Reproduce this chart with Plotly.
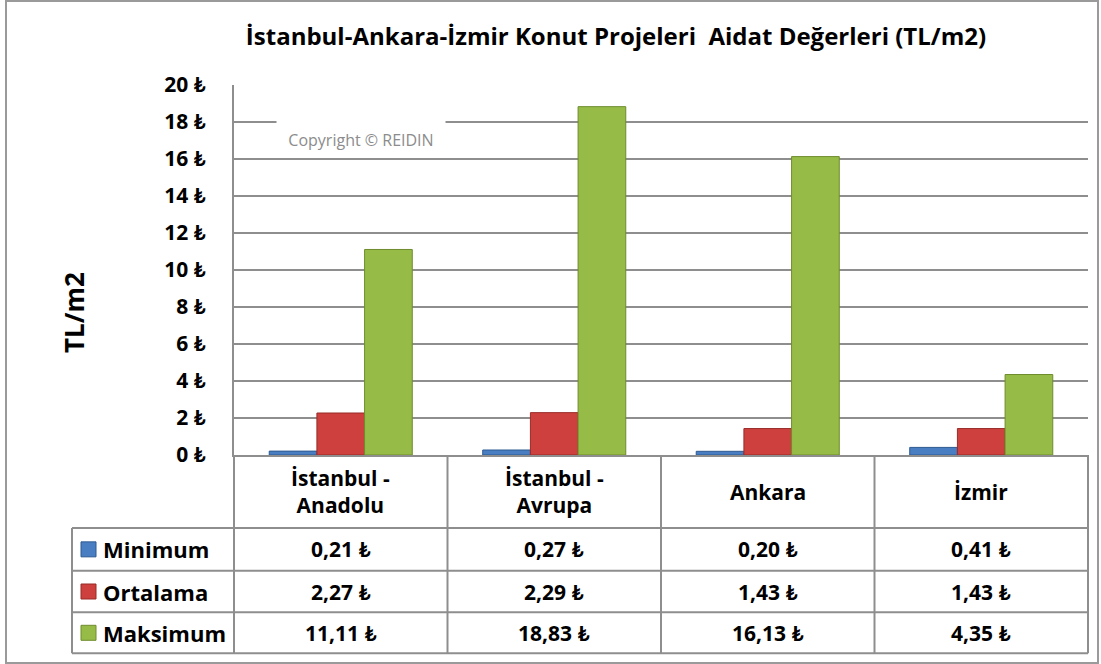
import plotly.graph_objects as go

# ---------------- data ----------------
categories = ["İstanbul - Anadolu", "İstanbul - Avrupa", "Ankara", "İzmir"]
header_labels = ["İstanbul -<br>Anadolu", "İstanbul -<br>Avrupa", "Ankara", "İzmir"]
series_names = ["Minimum", "Ortalama", "Maksimum"]
minimum = [0.21, 0.27, 0.20, 0.41]
ortalama = [2.27, 2.29, 1.43, 1.43]
maksimum = [11.11, 18.83, 16.13, 4.35]
y_ticks = [0, 2, 4, 6, 8, 10, 12, 14, 16, 18, 20]
y_ticktext = [f"{v} ₺" for v in y_ticks]
title_text = "İstanbul-Ankara-İzmir Konut Projeleri  Aidat Değerleri (TL/m2)"
y_title = "TL/m2"
copyright_text = "Copyright © REIDIN"

series_values = [minimum, ortalama, maksimum]
fill_colors = ["#4a7ec2", "#cd403d", "#96bc47"]
line_colors = ["#2d5b92", "#992b29", "#6e8c2d"]

FONT = "'Open Sans', Lato, 'DejaVu Sans', sans-serif"

# ---------------- geometry (pixels) ----------------
W, H = 1101, 664
L, R, T, B = 234, 1088, 85, 455


def px(x):
    return (x - L) / (R - L)


def py(y):
    return (B - y) / (B - T)


def fmt(v):
    return f"{v:.2f}".replace(".", ",") + " ₺"


fig = go.Figure()
for name, vals, fc, lc in zip(series_names, series_values, fill_colors, line_colors):
    fig.add_trace(go.Bar(
        x=categories, y=vals, name=name,
        marker=dict(color=fc, line=dict(color=lc, width=1)),
        showlegend=False,
    ))

GRID = "#8e8e8e"
shapes = []
table_left = 72
row_lines = [528, 570.7, 612.3, 653.3]
for yy in row_lines:
    shapes.append(dict(type="line", xref="paper", yref="paper",
                       x0=px(table_left), x1=1, y0=py(yy), y1=py(yy),
                       line=dict(color=GRID, width=2)))
n = len(categories)
for k in range(n + 1):
    shapes.append(dict(type="line", xref="paper", yref="paper",
                       x0=k / n, x1=k / n, y0=py(B), y1=py(row_lines[-1]),
                       line=dict(color=GRID, width=2)))
shapes.append(dict(type="line", xref="paper", yref="paper",
                   x0=px(table_left), x1=px(table_left),
                   y0=py(row_lines[0]), y1=py(row_lines[-1]),
                   line=dict(color=GRID, width=2)))
row_centers = [(row_lines[i] + row_lines[i + 1]) / 2 for i in range(3)]
for rc, fc, lc in zip(row_centers, fill_colors, line_colors):
    shapes.append(dict(type="rect", xref="paper", yref="paper",
                       x0=px(81), x1=px(96), y0=py(rc - 7.5), y1=py(rc + 7.5),
                       fillcolor=fc, line=dict(color=lc, width=1)))
shapes.append(dict(type="rect", xref="paper", yref="paper",
                   x0=px(6), x1=px(1098), y0=py(1), y1=py(663),
                   line=dict(color="#9a9a9a", width=2), fillcolor="rgba(0,0,0,0)"))

annotations = []
TABLE_FONT = dict(family=FONT, size=21, color="black", weight="bold")
for k, lab in enumerate(header_labels):
    annotations.append(dict(text=lab, xref="paper", yref="paper",
                            x=(k + 0.5) / n, y=py(491.5), showarrow=False,
                            xanchor="center", yanchor="middle", font=TABLE_FONT))
for rc, name, vals in zip(row_centers, series_names, series_values):
    annotations.append(dict(text=name, xref="paper", yref="paper",
                            x=px(101), y=py(rc), showarrow=False,
                            xanchor="left", yanchor="middle",
                            font=dict(family=FONT, size=22, color="black", weight="bold")))
    for k, v in enumerate(vals):
        annotations.append(dict(text=fmt(v), xref="paper", yref="paper",
                                x=(k + 0.5) / n, y=py(rc), showarrow=False,
                                xanchor="center", yanchor="middle", font=TABLE_FONT))
annotations.append(dict(text=y_title, xref="paper", yref="paper",
                        x=px(74), y=py(313), showarrow=False, textangle=-90,
                        xanchor="center", yanchor="middle",
                        font=dict(family=FONT, size=26, color="black", weight="bold")))
annotations.append(dict(text=copyright_text, xref="paper", yref="paper",
                        x=px(361), y=py(136), showarrow=False,
                        xanchor="center", yanchor="middle",
                        width=166, height=30, bgcolor="white", valign="bottom",
                        font=dict(family=FONT, size=16, color="#8c8c8c")))

fig.update_layout(
    width=W, height=H, autosize=False,
    margin=dict(l=L, r=W - R, t=T, b=H - B, pad=0),
    paper_bgcolor="white", plot_bgcolor="white",
    barmode="group", bargap=0.33, bargroupgap=0,
    title=dict(text=title_text, x=616 / W, xanchor="center",
               y=1 - 37 / H, yanchor="middle", xref="container", yref="container",
               font=dict(family=FONT, size=24, color="black", weight="bold")),
    xaxis=dict(showticklabels=False, ticks="", showgrid=False, zeroline=False,
               showline=True, linecolor=GRID, linewidth=2,
               range=[-0.5, n - 0.5]),
    yaxis=dict(range=[0, 20], tickvals=y_ticks, ticktext=y_ticktext,
               showgrid=True, gridcolor=GRID, gridwidth=2, zeroline=False,
               showline=True, linecolor=GRID, linewidth=2, ticks="",
               ticklabelstandoff=22,
               tickfont=dict(family=FONT, size=21, color="black", weight="bold")),
    shapes=shapes, annotations=annotations,
)

fig.write_html("out.html", config={"displayModeBar": False},
               post_script="document.body.style.margin='0px';")
